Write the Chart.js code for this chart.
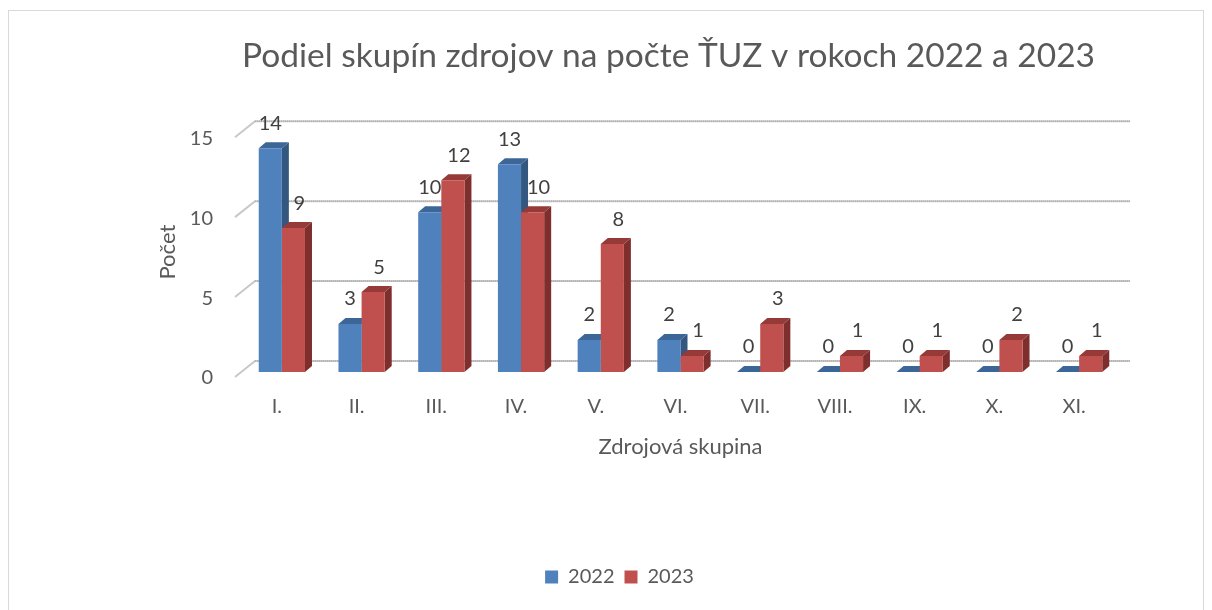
<!DOCTYPE html>
<html>
<head>
<meta charset="utf-8">
<script src="https://cdn.jsdelivr.net/npm/chart.js@4"></script>
<style>
  html, body { margin: 0; padding: 0; background: #fff; }
  #wrap { position: relative; width: 1212px; height: 610px; overflow: hidden; }
  #frame { position: absolute; left: 8px; top: 10px; width: 1196px; height: 640px; border: 1px solid #d9d9d9; box-sizing: border-box; }
  canvas { position: absolute; left: 0; top: 0; }
</style>
</head>
<body>
<div id="wrap">
  <div id="frame"></div>
  <canvas id="graf" width="1212" height="610"></canvas>
</div>
<script>
// údaje z grafu
const skupiny = ['I.', 'II.', 'III.', 'IV.', 'V.', 'VI.', 'VII.', 'VIII.', 'IX.', 'X.', 'XI.'];
const pocty2022 = [14, 3, 10, 13, 2, 2, 0, 0, 0, 0, 0];
const pocty2023 = [9, 5, 12, 10, 8, 1, 3, 1, 1, 2, 1];
const osY = [0, 5, 10, 15];

const pismo = 'Lato, "Open Sans", sans-serif';
const sivy = '#595959';

// farby: predná stena, bočná stena, vrch
const farby = [
    { predna: '#4F81BD', bok: '#34577F', vrch: '#3D6698' },
    { predna: '#C0504D', bok: '#7E2E2C', vrch: '#963A37' }
];
const hlbkaX = 7, hlbkaY = 6;

// 3D steny stĺpcov a zadná mriežka
const plugin3d = {
    id: 'plugin3d',
    beforeDatasetsDraw(chart) {
        const ctx = chart.ctx;
        const { left, right } = chart.chartArea;
        const y = chart.scales.y;
        ctx.save();
        osY.forEach(v => {
            const py = y.getPixelForValue(v);
            ctx.beginPath();
            ctx.moveTo(left - 7, py + 5);
            ctx.lineTo(left + 13, py - 11);
            ctx.lineTo(right + 11, py - 11);
            ctx.strokeStyle = '#C8C8C8';
            ctx.lineWidth = 2;
            ctx.stroke();
            ctx.beginPath();
            ctx.setLineDash([1, 1]);
            ctx.moveTo(left + 13, py - 11);
            ctx.lineTo(right + 11, py - 11);
            ctx.strokeStyle = '#A0A0A0';
            ctx.lineWidth = 1;
            ctx.stroke();
            ctx.setLineDash([]);
        });
        chart.data.datasets.forEach((ds, i) => {
            const f = farby[i];
            chart.getDatasetMeta(i).data.forEach(bar => {
                const x0 = bar.x - bar.width / 2;
                const x1 = bar.x + bar.width / 2;
                const top = bar.y, base = bar.base;
                // bok
                ctx.beginPath();
                ctx.moveTo(x1, top);
                ctx.lineTo(x1 + hlbkaX, top - hlbkaY);
                ctx.lineTo(x1 + hlbkaX, base - hlbkaY);
                ctx.lineTo(x1, base);
                ctx.closePath();
                ctx.fillStyle = f.bok;
                ctx.fill();
                // vrch
                ctx.beginPath();
                ctx.moveTo(x0, top);
                ctx.lineTo(x0 + hlbkaX, top - hlbkaY);
                ctx.lineTo(x1 + hlbkaX, top - hlbkaY);
                ctx.lineTo(x1, top);
                ctx.closePath();
                ctx.fillStyle = f.vrch;
                ctx.fill();
            });
        });
        ctx.restore();
    },
    afterDatasetsDraw(chart) {
        const ctx = chart.ctx;
        ctx.save();
        ctx.font = '20px ' + pismo;
        ctx.fillStyle = '#404040';
        ctx.textAlign = 'center';
        ctx.textBaseline = 'middle';
        chart.data.datasets.forEach((ds, i) => {
            chart.getDatasetMeta(i).data.forEach((bar, j) => {
                ctx.fillText(String(ds.data[j]), bar.x + (i === 1 ? 6 : 0), bar.y - 25);
            });
        });
        ctx.restore();
    }
};

new Chart(document.getElementById('graf'), {
    type: 'bar',
    data: {
        labels: skupiny,
        datasets: [
            { label: '2022', data: pocty2022, backgroundColor: farby[0].predna },
            { label: '2023', data: pocty2023, backgroundColor: farby[1].predna }
        ]
    },
    options: {
        responsive: false,
        animation: false,
        layout: { padding: { left: 120, right: 93, top: 0, bottom: 13 } },
        datasets: { bar: { barPercentage: 1, categoryPercentage: 0.58 } },
        scales: {
            x: {
                afterFit: s => { s.height = 185; },
                grid: { display: false, drawTicks: false },
                border: { display: false },
                ticks: { color: sivy, font: { family: pismo, size: 20 }, padding: 23, labelOffset: -5 },
                title: { display: true, text: 'Zdrojová skupina', color: sivy, font: { family: pismo, size: 22 }, padding: { top: 0, bottom: 97 } }
            },
            y: {
                min: 0, max: 15,
                afterFit: s => { s.width = 122; },
                grid: { display: false, drawTicks: false },
                border: { display: false },
                ticks: { stepSize: 5, color: sivy, font: { family: pismo, size: 20 }, padding: 29, labelOffset: 6 },
                title: { display: true, text: 'Počet', color: sivy, font: { family: pismo, size: 22 }, padding: { top: 35, bottom: 0 } }
            }
        },
        plugins: {
            title: {
                display: true,
                fullSize: false,
                align: 'start',
                text: 'Podiel skupín zdrojov na počte ŤUZ v rokoch 2022 a 2023',
                color: sivy,
                font: { family: pismo, size: 33.5, weight: 'normal' },
                padding: { top: 36, bottom: 56 }
            },
            legend: {
                position: 'bottom',
                labels: { color: sivy, font: { family: pismo, size: 20 }, boxWidth: 13, boxHeight: 13, padding: 10 }
            },
            tooltip: { enabled: false }
        }
    },
    plugins: [plugin3d]
});
</script>
</body>
</html>
